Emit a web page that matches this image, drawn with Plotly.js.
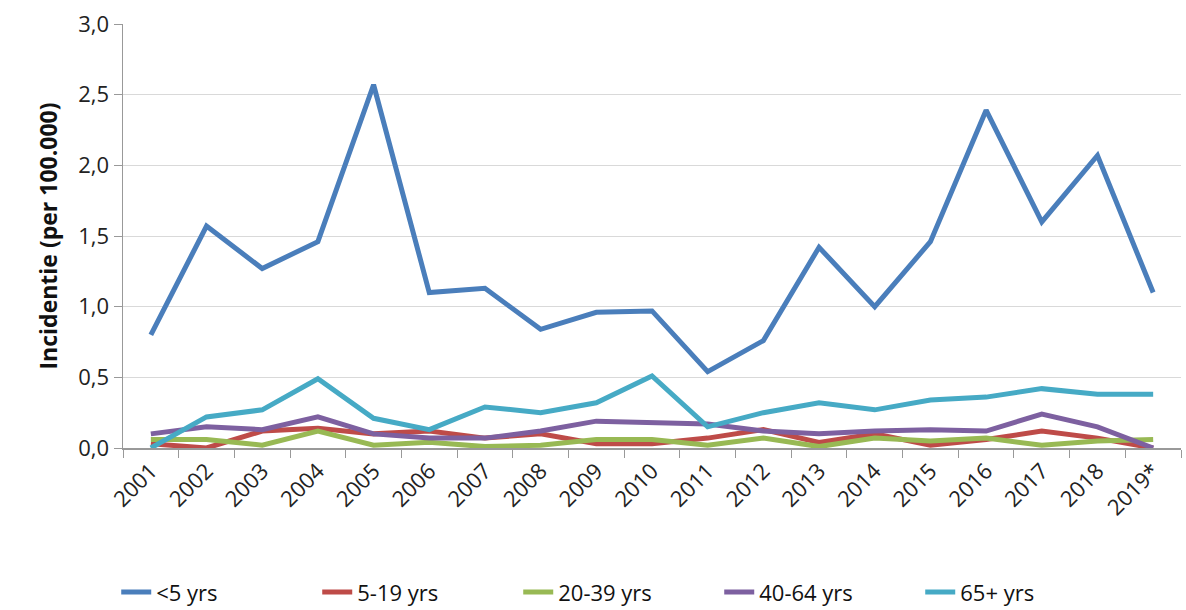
<!DOCTYPE html>
<html><head><meta charset="utf-8">
<script src="https://cdn.plot.ly/plotly-3.0.1.min.js"></script>
<style>html,body{margin:0;padding:0;background:#fff;}#chart{width:1186px;height:610px;}</style>
</head><body><div id="chart"></div>
<script>
const years = ["2001","2002","2003","2004","2005","2006","2007","2008","2009","2010","2011","2012","2013","2014","2015","2016","2017","2018","2019*"];
const under5 = [0.80,1.57,1.27,1.46,2.57,1.10,1.13,0.84,0.96,0.97,0.54,0.76,1.42,1.00,1.46,2.39,1.60,2.07,1.10];
const age5_19 = [0.03,0.00,0.12,0.14,0.10,0.12,0.07,0.10,0.03,0.03,0.07,0.13,0.04,0.10,0.02,0.06,0.12,0.07,0.00];
const age20_39 = [0.06,0.06,0.02,0.12,0.02,0.04,0.01,0.02,0.06,0.06,0.02,0.07,0.01,0.07,0.05,0.07,0.02,0.05,0.06];
const age40_64 = [0.10,0.15,0.13,0.22,0.10,0.07,0.07,0.12,0.19,0.18,0.17,0.12,0.10,0.12,0.13,0.12,0.24,0.15,0.00];
const age65p = [0.00,0.22,0.27,0.49,0.21,0.13,0.29,0.25,0.32,0.51,0.15,0.25,0.32,0.27,0.34,0.36,0.42,0.38,0.38];
const seriesNames = ["<5 yrs","5-19 yrs","20-39 yrs","40-64 yrs","65+ yrs"];
const colors = ["#4A7EBB","#BE4B48","#98B954","#7D60A0","#46AAC5"];
const allSeries = [under5, age5_19, age20_39, age40_64, age65p];
const yTicks = [0,0.5,1,1.5,2,2.5,3];

const traces = allSeries.map((s,i)=>({
  x: years, y: s, type:'scatter', mode:'lines', name: seriesNames[i],
  line:{color:colors[i], width:5}
}));
const font = "Open Sans, Liberation Sans, sans-serif";
const layout = {
  width:1186, height:610,
  margin:{l:123, r:5, t:24, b:162, autoexpand:false},
  paper_bgcolor:'#fff', plot_bgcolor:'#fff',
  separators:',.',
  font:{family:font, color:'#222', size:21},
  xaxis:{type:'category', tickangle:-45, tickson:'boundaries', ticks:'outside', ticklen:8,
    tickcolor:'#999', showline:true, linecolor:'#999', linewidth:1.5, showgrid:false,
    tickfont:{size:22, family:font}, range:[-0.5,18.5], fixedrange:true},
  yaxis:{range:[0,3], tickvals:yTicks, tickformat:'.1f', ticks:'outside', ticklen:8, tickcolor:'#999',
    showline:true, linecolor:'#999', linewidth:1.5, gridcolor:'#d9d9d9', gridwidth:1, zeroline:false,
    tickfont:{size:22, family:font},
    title:{text:'<b>Incidentie (per 100.000)</b>', font:{size:23, family:font, color:'#111'}, standoff:14}},
  showlegend:true,
  legend:{orientation:'h', xref:'container', x:0.098, xanchor:'left', yref:'container', y:0.029, yanchor:'middle',
    font:{size:22, family:font, color:'#111'}, itemwidth:30, entrywidth:156, entrywidthmode:'pixels',
    traceorder:'normal'}
};
Plotly.newPlot('chart', traces, layout, {displayModeBar:false, staticPlot:true});
</script></body></html>
